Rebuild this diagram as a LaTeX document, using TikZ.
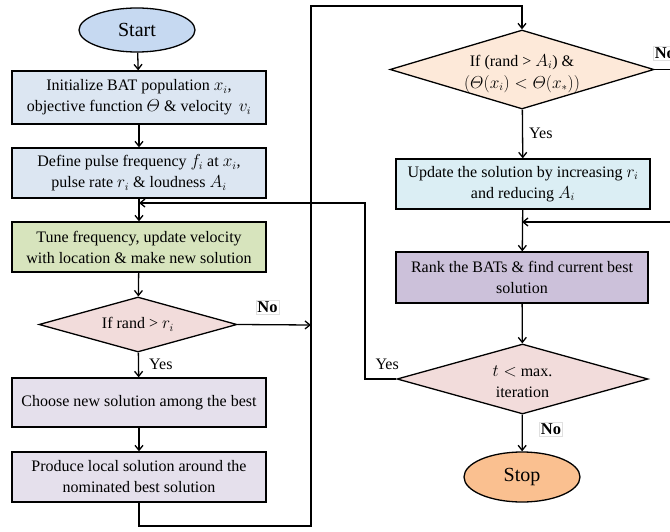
\documentclass[tikz,border=0pt]{standalone}
\usepackage{amsmath}
\usepackage{fontspec}
\setmainfont{Liberation Serif}
\usetikzlibrary{shapes.geometric,arrows.meta}
\definecolor{cstart}{HTML}{C6D9F1}
\definecolor{cblue}{HTML}{DCE6F2}
\definecolor{cgreen}{HTML}{D7E4BD}
\definecolor{cpink}{HTML}{F2DCDB}
\definecolor{clav}{HTML}{E5E0EC}
\definecolor{cpeach}{HTML}{FDE9D9}
\definecolor{ccyan}{HTML}{DBEEF4}
\definecolor{cpurple}{HTML}{CCC1DA}
\definecolor{cstop}{HTML}{FAC090}
\tikzset{
  x=1pt,y=-1pt,
  txt/.style={font=\fontsize{16}{21}\selectfont, align=center, inner sep=0},
  procbox/.style={draw, line width=1.3pt, rectangle, minimum width=254pt, minimum height=50pt, inner sep=0, font=\fontsize{16}{21}\selectfont, align=center},
  term/.style={draw, line width=1.3pt, ellipse, minimum width=116pt, minimum height=44pt, inner sep=0, font=\fontsize{20}{24}\selectfont},
  dec/.style={draw, line width=1.3pt, diamond, inner sep=0},
  nobox/.style={draw=black!12, line width=0.6pt, inner sep=1.5pt, font=\fontsize{16.5}{18}\selectfont\bfseries},
  conn/.style={line width=1.3pt, -{Straight Barb[length=5pt,width=8pt,line width=1.3pt]}},
}
\begin{document}
\begin{tikzpicture}
\useasboundingbox (0,0) rectangle (670,532);
\clip (0,0) rectangle (670,532);
% left column
\node[term, fill=cstart] (start) at (137,30) {Start};
\node[procbox, fill=cblue, minimum height=53pt] (b1) at (139,97.5) {Initialize BAT population $x_i$,\\objective function $\varTheta$ \& velocity\, $v_i$};
\node[procbox, fill=cblue] (b2) at (139,173) {Define pulse frequency $f_i$ at $x_i$,\\pulse rate $r_i$ \& loudness $A_i$};
\node[procbox, fill=cgreen] (b3) at (139,247) {Tune frequency, update velocity\\with location \& make new solution};
\node[dec, fill=cpink, minimum width=198pt, minimum height=55pt] (d1) at (138,324.5) {};
\node[txt] (d1t) at (d1.center) {If rand > $r_i$};
\node[nobox] (no1) at (267.5,307) {No};
\node[txt, anchor=west] (yes1) at (149,364) {Yes};
\node[procbox, fill=clav, minimum height=49pt] (b4) at (139,402.5) {Choose new solution among the best};
\node[procbox, fill=clav] (b5) at (139,477) {Produce local solution around the\\nominated best solution};
% right column
\node[dec, fill=cpeach, minimum width=264pt, minimum height=79pt] (d2) at (522,69.5) {};
\node[txt] (d2t) at (522,73.5) {If (rand > $A_i$) \&\\[1pt]$(\varTheta(x_i) < \varTheta(x_*))$};
\node[nobox, anchor=west] (no2) at (653,53.5) {No};
\node[txt, anchor=west] (yes2) at (529,133) {Yes};
\node[procbox, fill=ccyan] (b6) at (523,184) {Update the solution by increasing $r_i$\\and reducing $A_i$};
\node[procbox, fill=cpurple, minimum width=252pt, minimum height=51pt] (b7) at (522,277.5) {Rank the BATs \& find current best\\solution};
\node[dec, fill=cpink, minimum width=251pt, minimum height=70pt] (d3) at (522.5,379) {};
\node[txt] (d3t) at (522.5,382) {$t <$ max.\\iteration};
\node[txt, anchor=east] (yes3) at (399,364) {Yes};
\node[nobox] (no3) at (551,429) {No};
\node[term, fill=cstop, minimum height=50pt] (stop) at (522,477) {Stop};
% junction coordinates
\coordinate (j1) at (139,203);
\coordinate (j2) at (522,222);
\coordinate (c1) at (139,526);
\coordinate (c2) at (311,526);
\coordinate (c3) at (311,6);
\coordinate (c4) at (522,6);
\coordinate (c5) at (311,325);
\coordinate (c6) at (365,379);
\coordinate (c7) at (365,203);
\coordinate (c8) at (682,69.5);
\coordinate (c9) at (682,222);
% connectors
\draw[conn] (start) -- (b1);
\draw[conn] (b1) -- (b2);
\draw[conn] (b2) -- (b3);
\draw[conn] (b3) -- (d1);
\draw[conn] (d1) -- (b4);
\draw[conn] (b4) -- (b5);
\draw[conn] (b5.south) -- (c1) -- (c2) -- (c3) -- (c4) -- (d2.north);
\draw[conn] (d1.east) -- (c5);
\draw[conn] (d2) -- (b6);
\draw[conn] (b6) -- (b7);
\draw[conn] (b7) -- (d3);
\draw[conn] (d3) -- (stop);
\draw[conn] (d3.west) -- (c6) -- (c7) -- (j1);
\draw[conn] (d2.east) -- (c8) -- (c9) -- (j2);
\end{tikzpicture}
\end{document}
